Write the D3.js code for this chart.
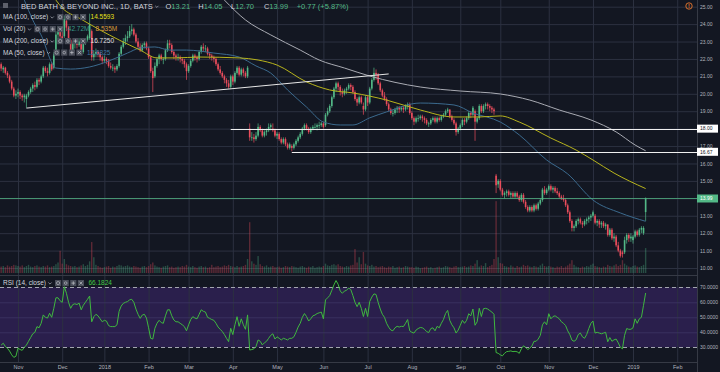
<!DOCTYPE html>
<html>
<head>
<meta charset="utf-8">
<script src="https://cdnjs.cloudflare.com/ajax/libs/d3/7.8.5/d3.min.js"></script>
<style>
html, body { margin: 0; padding: 0; background: #131722; }
svg { display: block; font-family: "Liberation Sans", Arial, sans-serif; }
</style>
</head>
<body>
<div id="chart"></div>
<script>
// daily bars, index 0 = 20 Oct 2017 ... index 306 = 9 Jan 2019  [open, high, low, close]
var ohlc = [
// Oct 2017
[21.7,21.8,21.3,21.45],[21.4,21.6,21.2,21.5],[21.5,21.55,21.1,21.2],[21.2,21.3,20.9,21.05],[21.0,21.1,20.6,20.7],[20.7,20.8,20.2,20.3],[20.3,20.4,19.8,19.9],[19.9,20.2,19.7,20.0],
// Nov
[20.0,20.3,19.8,20.1],[20.1,20.2,19.7,19.9],[19.9,20.0,19.6,19.8],[19.8,20.0,19.5,19.9],[19.7,20.0,19.2,19.9],[19.9,20.2,19.8,20.1],[20.1,20.4,20.0,20.3],[20.3,20.6,20.1,20.5],
[20.5,20.7,20.2,20.4],[20.4,20.9,20.3,20.8],[20.8,20.9,20.5,20.7],[20.7,21.1,20.6,21.0],[21.0,21.6,20.9,21.5],[21.5,21.6,21.2,21.3],[21.3,21.5,21.0,21.2],[21.2,21.8,21.1,21.7],
[21.7,21.8,21.3,21.4],[21.5,22.4,21.4,22.3],[22.4,23.6,22.3,23.4],[23.4,23.9,23.0,23.6],[23.6,23.8,23.1,23.3],
// Dec
[23.3,23.7,23.0,23.2],[23.3,24.5,23.2,24.3],[24.2,24.4,23.6,23.8],[23.8,23.9,23.0,23.1],[23.1,23.2,22.3,22.5],[22.5,23.0,22.4,22.9],[22.9,23.1,22.6,22.9],[22.9,23.0,22.6,22.8],
[22.8,23.2,22.7,23.0],[23.0,23.1,22.3,22.4],[22.4,23.0,22.3,22.9],[22.9,23.2,22.8,23.1],[23.1,23.4,23.0,23.3],[23.2,24.6,23.1,24.0],[23.6,23.7,21.9,22.1],[22.1,22.5,21.9,22.3],
[22.3,22.6,22.1,22.4],[22.4,22.5,22.1,22.3],[22.3,22.4,21.9,22.1],[22.1,22.2,21.7,21.9],
// Jan 2018
[21.9,22.2,21.8,22.0],[22.0,22.1,21.7,21.9],[21.9,22.0,21.5,21.6],[21.6,21.8,21.4,21.5],[21.5,21.7,21.3,21.5],[21.5,21.6,21.2,21.4],[21.4,21.7,21.3,21.6],[21.6,22.4,21.5,22.3],
[22.3,22.8,22.2,22.7],[22.7,23.2,22.6,23.0],[23.0,23.4,22.8,23.2],[23.2,23.6,23.0,23.3],[23.3,23.9,23.2,23.6],[23.6,24.0,23.4,23.7],[23.7,23.8,23.3,23.4],[23.4,23.5,22.9,23.0],
[23.0,23.2,22.6,22.7],[22.7,22.9,22.4,22.5],[22.5,22.9,22.4,22.8],[22.8,23.0,22.6,22.9],[22.9,23.0,22.5,22.6],
// Feb
[22.6,22.7,22.0,22.1],[22.1,22.2,21.2,21.3],[21.3,21.5,20.1,20.9],[21.0,21.8,20.9,21.6],[21.6,22.1,21.5,22.0],[22.0,22.3,21.7,22.2],[22.2,22.3,21.9,22.0],[22.0,22.1,21.7,22.0],
[22.0,22.6,21.9,22.5],[22.5,23.1,22.4,22.9],[22.9,23.1,22.6,22.8],[22.8,22.9,22.3,22.4],[22.4,22.5,22.0,22.2],[22.2,22.3,21.9,22.1],[22.1,22.3,21.9,22.1],[22.1,22.2,21.8,22.0],
[22.0,22.1,21.7,21.9],[21.9,22.0,21.5,21.7],[21.7,21.8,20.8,21.3],
// Mar
[21.3,21.7,21.2,21.6],[21.6,22.0,21.5,21.9],[21.9,22.3,21.8,22.2],[22.2,22.3,21.9,22.1],[22.1,22.2,21.8,22.0],[22.0,22.5,21.9,22.4],[22.4,22.8,22.3,22.7],[22.7,22.9,22.4,22.6],
[22.6,22.8,22.4,22.6],[22.6,22.7,22.2,22.3],[22.3,22.4,22.0,22.2],[22.2,22.3,21.9,22.1],[22.1,22.2,21.8,22.0],[22.0,22.1,21.6,21.7],[21.7,21.8,21.3,21.4],[21.4,21.6,21.1,21.2],
[21.2,21.3,20.9,21.0],[21.0,21.1,20.6,20.8],[20.8,20.9,20.4,20.6],[20.6,20.8,20.3,20.4],[20.4,21.1,20.3,21.0],
// Apr
[21.0,21.1,20.5,20.7],[20.7,21.3,20.6,21.2],[21.2,21.6,21.1,21.5],[21.5,21.6,21.0,21.1],[21.1,21.5,21.0,21.4],[21.4,21.5,21.0,21.2],[21.2,21.3,20.9,21.0],[21.0,21.6,20.9,21.5],
[18.0,18.3,17.3,17.5],[17.5,17.8,17.3,17.5],[17.5,17.7,17.2,17.4],[17.4,17.8,17.3,17.6],[17.6,18.3,17.5,18.1],[18.1,18.2,17.8,17.9],[17.9,18.0,17.5,17.6],[17.6,17.9,17.5,17.8],
[17.8,18.0,17.6,17.9],[17.9,18.3,17.8,18.1],[18.1,18.3,17.9,18.2],[18.0,18.3,17.8,17.9],[17.9,18.0,17.5,17.6],
// May
[17.6,17.8,17.4,17.7],[17.7,17.8,17.3,17.4],[17.4,17.5,17.1,17.2],[17.2,17.5,17.1,17.4],[17.4,17.5,17.0,17.1],[17.1,17.2,16.8,16.9],[16.9,17.2,16.8,17.1],[17.0,17.1,16.7,16.9],
[16.9,17.2,16.8,17.1],[17.1,17.4,17.0,17.3],[17.3,17.6,17.2,17.5],[17.5,17.8,17.4,17.7],[17.7,18.1,17.6,18.0],[18.0,18.3,17.9,18.2],[18.2,18.3,17.9,18.0],[18.0,18.1,17.7,17.8],
[17.8,18.1,17.7,18.0],[18.0,18.2,17.9,18.1],[18.1,18.3,18.0,18.1],[18.1,18.3,17.9,18.2],[18.2,18.4,18.0,18.2],[18.2,18.4,18.1,18.3],
// Jun
[18.3,18.4,18.0,18.1],[18.2,18.9,18.1,18.8],[18.8,19.2,18.7,19.0],[19.0,19.4,18.9,19.3],[19.3,19.9,19.2,19.8],[19.8,20.4,19.7,20.3],[20.3,20.7,20.1,20.6],[20.6,20.7,20.2,20.4],
[20.4,20.5,19.9,20.1],[20.1,20.3,19.8,20.0],[20.0,20.3,19.9,20.2],[20.2,20.4,20.0,20.3],[20.3,20.6,20.2,20.5],[20.5,20.6,20.2,20.4],[20.4,20.5,20.0,20.1],[20.1,20.2,19.6,19.7],
[19.7,19.8,19.3,19.5],[19.5,19.9,19.4,19.8],[19.8,19.9,19.4,19.5],[19.3,19.5,18.8,19.1],[19.1,19.9,19.0,19.8],
// Jul
[19.8,19.9,19.3,19.5],[19.5,20.4,19.4,20.3],[20.3,20.9,20.2,20.8],[20.8,21.5,20.7,21.2],[21.2,21.4,20.8,21.1],[21.1,21.2,20.5,20.6],[20.6,20.7,20.1,20.2],[20.2,20.3,19.8,19.9],
[19.9,20.1,19.6,19.7],[19.7,19.8,19.3,19.4],[19.4,19.5,19.0,19.1],[19.1,19.2,18.8,18.9],[18.9,19.1,18.7,18.9],[18.9,19.2,18.8,19.1],[19.1,19.3,18.9,19.2],[19.2,19.3,18.9,19.1],
[19.1,19.3,19.0,19.2],[19.2,19.3,18.9,19.1],[19.1,19.4,19.0,19.3],[19.3,19.5,19.1,19.4],[19.4,19.5,18.8,18.9],
// Aug
[18.9,19.0,18.5,18.6],[18.6,18.7,18.2,18.4],[18.4,18.7,18.3,18.6],[18.6,18.8,18.4,18.6],[18.6,18.8,18.5,18.7],[18.7,18.8,18.4,18.6],[18.6,18.7,18.3,18.5],[18.5,18.6,18.2,18.3],
[18.3,18.4,18.1,18.3],[18.3,18.6,18.2,18.5],[18.5,18.7,18.4,18.6],[18.6,18.7,18.3,18.4],[18.4,18.7,18.3,18.6],[18.6,18.7,18.4,18.5],[18.5,18.8,18.4,18.7],[18.7,18.9,18.6,18.8],
[18.8,19.1,18.7,19.0],[19.0,19.2,18.9,19.1],[19.1,19.1,18.6,18.7],[18.7,18.8,18.4,18.5],[18.5,18.6,18.2,18.3],[18.3,18.4,17.6,17.8],[17.8,18.1,17.7,18.0],
// Sep
[18.0,18.3,17.9,18.2],[18.2,18.6,18.1,18.5],[18.5,18.6,18.2,18.4],[18.4,18.7,18.3,18.6],[18.6,19.0,18.5,18.9],[18.9,19.0,18.6,18.8],[18.8,19.3,18.7,19.2],[19.0,19.1,17.3,18.4],
[18.4,18.7,18.3,18.6],[18.6,19.4,18.5,19.3],[19.3,19.4,18.9,19.0],[19.0,19.4,18.9,19.3],[19.3,19.5,19.1,19.4],[19.4,19.5,19.1,19.3],[19.3,19.4,19.0,19.2],[19.2,19.3,18.9,19.1],
[19.1,19.2,18.8,19.0],[15.3,15.4,14.3,14.75],[14.8,15.1,14.6,15.0],
// Oct
[15.0,15.1,14.4,14.5],[14.5,14.6,14.1,14.2],[14.2,14.4,14.0,14.3],[14.3,14.5,14.1,14.4],[14.4,14.5,14.1,14.2],[14.2,14.4,14.0,14.3],[14.3,14.4,14.0,14.1],[14.1,14.4,14.0,14.3],
[14.3,14.4,14.0,14.1],[14.1,14.2,13.8,13.9],[13.9,14.3,13.8,14.2],[14.2,14.3,13.7,13.8],[13.8,13.9,13.4,13.5],[13.5,13.6,13.2,13.3],[13.3,13.6,13.2,13.5],[13.5,13.6,13.2,13.3],
[13.3,13.7,13.2,13.6],[13.6,13.7,13.3,13.4],[13.4,13.8,13.3,13.7],[13.7,14.0,13.6,13.9],[13.9,14.6,13.8,14.5],[14.5,14.7,14.2,14.3],[14.3,14.6,14.2,14.5],
// Nov
[14.5,14.8,14.4,14.7],[14.7,14.8,14.4,14.5],[14.5,14.7,14.3,14.6],[14.6,14.7,14.3,14.4],[14.4,14.6,14.2,14.3],[14.3,14.4,14.0,14.1],[14.1,14.2,13.9,14.0],[14.0,14.2,13.8,13.9],
[13.9,14.0,13.5,13.6],[13.6,13.7,13.1,13.2],[13.2,13.3,12.6,12.7],[12.7,12.8,12.1,12.3],[12.3,12.5,12.1,12.4],[12.4,12.8,12.3,12.7],[12.7,12.9,12.5,12.8],[12.8,12.9,12.5,12.6],
[12.6,12.7,12.3,12.5],[12.5,12.8,12.4,12.7],[12.7,12.9,12.5,12.8],[12.8,13.0,12.6,12.9],[12.9,13.1,12.7,13.0],
// Dec
[13.0,13.3,12.9,13.2],[13.0,13.1,12.5,12.6],[12.6,12.8,12.4,12.7],[12.7,12.8,12.3,12.5],[12.5,12.7,12.3,12.6],[12.6,12.7,12.3,12.4],[12.4,12.6,12.2,12.5],[12.5,12.5,11.8,11.9],
[11.9,12.3,11.8,12.2],[12.2,12.3,11.6,11.7],[11.7,12.0,11.5,11.8],[11.8,11.9,11.2,11.3],[11.3,11.5,10.9,11.0],[11.0,11.1,10.6,10.7],[10.9,11.0,10.6,10.8],[10.9,11.8,10.8,11.6],
[11.6,12.0,11.4,11.9],[11.9,12.0,11.5,11.7],[11.7,12.0,11.5,11.8],
// Jan 2019
[11.6,11.9,11.4,11.8],[11.8,12.2,11.7,12.1],[12.1,12.2,11.8,11.9],[11.9,12.3,11.8,12.2],[12.2,12.4,12.0,12.3],[12.0,12.4,11.9,12.3],[13.21,14.05,12.70,13.99]
];

// volume, millions
var volume = [
11,12,10,13,11,12,14,13,
12,11,13,10,12,14,11,10,12,13,11,10,12,11,13,10,11,12,15,18,38,
16,24,15,13,12,11,12,10,11,13,15,12,14,20,53,27,14,12,10,9,
10,11,12,9,11,10,12,14,13,11,12,13,11,10,12,11,10,9,11,12,10,
12,15,18,13,11,10,9,11,12,13,10,11,9,10,11,10,12,11,14,
11,10,12,10,9,11,12,10,11,9,10,14,10,11,12,10,11,13,12,14,12,
11,10,12,10,11,12,14,24,87,20,16,14,29,15,12,11,13,10,11,12,10,
10,11,9,10,12,11,10,12,11,10,9,11,12,10,9,11,10,12,9,10,11,10,
12,16,13,12,14,15,13,15,12,11,10,12,11,13,14,41,18,27,15,36,16,
13,12,14,11,12,10,11,12,10,9,11,10,12,9,10,11,9,10,12,11,10,
10,9,11,10,8,9,10,11,9,10,8,9,10,11,9,10,12,11,10,9,11,12,10,
10,11,12,10,11,13,12,16,22,11,13,12,17,10,12,14,24,123,27,
17,16,12,11,10,13,11,9,12,10,11,14,12,13,11,10,12,11,10,13,16,12,11,
12,11,10,9,11,10,12,9,11,13,16,22,14,11,10,9,11,10,12,11,14,
16,12,11,10,9,11,10,14,12,11,13,15,12,14,22,16,13,11,10,
12,13,11,10,12,14,42.72
];

// RSI(14) per bar
var rsi = [
31.5,32.7,30.5,29.3,27.5,25,23.3,24,
29.5,28.5,28,30,31.5,34,36.5,39,40,43.8,43,46,51.6,50,49.5,52.7,50,56,63,63,61,
60,70.4,66,60,56,58.5,59,58.5,59.5,55,58,60,62,64.2,47,50.4,52,51,49,47,
48,47.5,44.5,43.8,43.8,43.8,45,54,57.5,59.3,60,60.5,61.6,62,60,55.5,52,49.3,51.5,52,49.5,
43,36,35.5,42.7,46,48,46.5,46,51,55,55,51,48.2,47,47,46,45,43.8,41,
45,48.5,50.4,49.5,49,52,55,54,53.5,50,49.3,48.5,48,46,43.5,42,40.5,38.5,36,33.8,42.7,
38.5,45,50.4,44,49,45,42,51.6,28.2,28.5,29,30.5,34.9,34,31.6,33,34,36,38,39,35.5,
37,36,34.9,36,35.5,34.9,36,36,37,40,43.5,46,50,52.5,50.5,47.5,49,51,51.5,52.5,53,53.5,
49,61.6,63,64.5,68,71.6,74.5,72,67.5,66,67.5,68,69.5,68.5,64.5,60,57.1,60,56,50.5,56,
50.5,60.5,63.5,65.6,65.2,60,55.5,52,50,46,43.4,41.5,41,43,44,43.5,44,43.8,46,48.5,41,
40,39.5,41.5,42.5,43.2,43,42,40.5,39.8,42.5,43,41,44,43,46,48.5,52.5,54.6,48,45,43,39.5,41.5,
44.7,48,46,48,52.4,51,55.5,44.7,47,56,50.5,55.7,56,55.5,54.5,53.5,52,26.5,26,
25,24.3,26,27.1,27.3,27.6,27.1,27.3,27,26,29,31,30,28.5,29.5,30.8,34,34,35.5,38,45,47,45,
52.4,49,50.5,51,50,49,47,46,44.5,41,38.5,34.8,34,35,38.5,39.5,37,36,38.5,42.5,46,
47.5,39.5,40,39.5,39,39.5,40,33.7,36.5,34,35,35.5,33,30,29,38,42.5,42,42,
43,49,46,49,50,58,66.2
];

// moving averages: [bar index, value]
var ma50 = [[11,25.38],[15,24.24],[20,23.09],[23,22.06],[26,21.48],[33,21.42],[42,21.54],[50,21.83],[60,22.34],[66,22.63],[73,22.69],[80,22.51],[88,22.51],[101,22.34],[113,22.11],[121,21.6],[128,21.19],[136,20.22],[145,19.24],[153,18.38],[161,18.21],[167,18.21],[175,18.62],[183,18.96],[199,19.47],[215,19.36],[224,18.9],[237,18.38],[246,17.64],[259,16.2],[269,15.4],[281,13.9],[294,13.16],[306,12.68]];
var ma100 = [[26,25.38],[29,24.93],[37,24.35],[47,23.66],[56,23.09],[66,22.51],[74,22.06],[83,22.06],[94,22.11],[113,22.06],[122,21.94],[131,21.65],[145,20.68],[156,20.22],[167,20.05],[183,19.64],[199,19.07],[215,18.67],[227,18.67],[237,18.73],[246,18.38],[261,17.46],[273,16.77],[281,16.2],[291,15.45],[306,14.56]];
var ma200 = [[106,25.38],[116,24.24],[128,23.38],[142,22.51],[151,21.94],[163,21.48],[175,21.02],[199,20.39],[218,20.16],[237,19.99],[251,19.64],[265,19.07],[280,18.5],[292,17.81],[301,17.06],[306,16.73]];

// drawn lines
var trendLine = [[12, 19.18], [184, 21.14]];
var levels = [{ from: 109, price: 18.00 }, { from: 138, price: 16.67 }];
var lastPrice = 13.99;

var monthLabels = ["Nov","Dec","2018","Feb","Mar","Apr","May","Jun","Jul","Aug","Sep","Oct","Nov","Dec","2019","Feb"];
var monthIndex = [8,29,49,70,89,110,131,153,174,195,218,237,260,281,300,321];
var priceTicks = [10,11,12,13,14,15,16,17,18,19,20,21,22,23,24,25];
var rsiTicks = [30,40,50,60,70];

var W = 720, H = 372;
var plotRight = 697, mainBottom = 274, rsiTop = 276, rsiBottom = 362;
var upColor = "#53b987", downColor = "#eb4d5c", gridColor = "#2c3140", textColor = "#b2b5be";

var x = d3.scaleLinear().domain([8, 300]).range([18, 633]);
var y = d3.scaleLinear().domain([10, 25]).range([268, 6.7]);
var yVol = d3.scaleLinear().domain([0, 125]).range([273, 200]);
var yRsi = d3.scaleLinear().domain([30, 70]).range([347.3, 287.3]);

var svg = d3.select("#chart").append("svg")
    .attr("width", W)
    .attr("height", H);

svg.append("rect").attr("width", W).attr("height", H).attr("fill", "#131722");

var defs = svg.append("defs");
defs.append("clipPath").attr("id", "clipMain")
    .append("rect").attr("x", 0).attr("y", 0).attr("width", plotRight).attr("height", mainBottom);
defs.append("clipPath").attr("id", "clipRsi")
    .append("rect").attr("x", 0).attr("y", rsiTop).attr("width", plotRight).attr("height", rsiBottom - rsiTop);

// rsi band
svg.append("rect")
    .attr("x", 0).attr("y", yRsi(70))
    .attr("width", plotRight).attr("height", yRsi(30) - yRsi(70))
    .attr("fill", "#2a1f4c");

const styleGrid = (g) => {
    g.select(".domain").remove();
    g.selectAll("line").attr("stroke", gridColor);
}

// vertical grid
svg.append("g")
    .attr("transform", "translate(0," + rsiBottom + ")")
    .call(d3.axisBottom(x).tickValues(monthIndex).tickSize(-rsiBottom).tickFormat(""))
    .call(styleGrid);
// price grid
svg.append("g")
    .call(d3.axisLeft(y).tickValues(priceTicks).tickSize(-plotRight).tickFormat(""))
    .call(styleGrid);
// rsi grid
svg.append("g")
    .call(d3.axisLeft(yRsi).tickValues([40, 50, 60]).tickSize(-plotRight).tickFormat(""))
    .call(g => { g.select(".domain").remove(); g.selectAll("line").attr("stroke", "#3a3160"); });

// pane borders
svg.append("line").attr("x1", 0).attr("x2", plotRight).attr("y1", mainBottom + 1.5).attr("y2", mainBottom + 1.5).attr("stroke", "#363a45");
svg.append("line").attr("x1", 0).attr("x2", plotRight).attr("y1", rsiBottom + 0.5).attr("y2", rsiBottom + 0.5).attr("stroke", "#363a45");
svg.append("line").attr("x1", plotRight + 0.5).attr("x2", plotRight + 0.5).attr("y1", 0).attr("y2", H).attr("stroke", "#363a45");

var main = svg.append("g").attr("clip-path", "url(#clipMain)");

// volume
main.append("g").selectAll("rect")
    .data(ohlc)
    .enter().append("rect")
    .attr("x", (d, i) => x(i) - 0.7)
    .attr("width", 1.4)
    .attr("y", (d, i) => yVol(volume[i]))
    .attr("height", (d, i) => yVol(0) - yVol(volume[i]))
    .attr("fill", d => d[3] >= d[0] ? upColor : downColor)
    .attr("opacity", 0.34);

// candles
var candle = main.append("g").selectAll("g")
    .data(ohlc)
    .enter().append("g");
candle.append("line")
    .attr("x1", (d, i) => x(i)).attr("x2", (d, i) => x(i))
    .attr("y1", d => y(d[1])).attr("y2", d => y(d[2]))
    .attr("stroke", d => d[3] >= d[0] ? upColor : downColor)
    .attr("stroke-width", 0.7);
candle.append("rect")
    .attr("x", (d, i) => x(i) - 0.8)
    .attr("width", 1.6)
    .attr("y", d => y(Math.max(d[0], d[3])))
    .attr("height", d => Math.max(0.8, Math.abs(y(d[0]) - y(d[3]))))
    .attr("fill", d => d[3] >= d[0] ? upColor : downColor);

// moving averages
var maLine = d3.line().x(d => x(d[0])).y(d => y(d[1])).curve(d3.curveMonotoneX);
main.append("path").datum(ma200).attr("d", maLine).attr("fill", "none").attr("stroke", "#a9abb3").attr("stroke-width", 1);
main.append("path").datum(ma50).attr("d", maLine).attr("fill", "none").attr("stroke", "#3b6a8e").attr("stroke-width", 1);
main.append("path").datum(ma100).attr("d", maLine).attr("fill", "none").attr("stroke", "#b8b41c").attr("stroke-width", 1);

// user drawn lines
main.append("line")
    .attr("x1", x(trendLine[0][0])).attr("y1", y(trendLine[0][1]))
    .attr("x2", x(trendLine[1][0])).attr("y2", y(trendLine[1][1]))
    .attr("stroke", "#e8e8e8").attr("stroke-width", 1);
main.selectAll(".level").data(levels).enter().append("line")
    .attr("x1", d => x(d.from)).attr("x2", plotRight)
    .attr("y1", d => Math.round(y(d.price)) + 0.5).attr("y2", d => Math.round(y(d.price)) + 0.5)
    .attr("stroke", "#f0f0f0").attr("stroke-width", 1);
main.append("line")
    .attr("x1", 0).attr("x2", plotRight)
    .attr("y1", Math.round(y(lastPrice)) + 0.5).attr("y2", Math.round(y(lastPrice)) + 0.5)
    .attr("stroke", upColor).attr("stroke-width", 1).attr("opacity", 0.75);

// rsi
var rsiPane = svg.append("g").attr("clip-path", "url(#clipRsi)");
rsiPane.selectAll(".band").data([70, 30]).enter().append("line")
    .attr("x1", 0).attr("x2", plotRight)
    .attr("y1", d => Math.round(yRsi(d)) + 0.5).attr("y2", d => Math.round(yRsi(d)) + 0.5)
    .attr("stroke", "#a3a6af").attr("stroke-dasharray", "4,3");
rsiPane.append("path").datum(rsi)
    .attr("d", d3.line().x((d, i) => x(i)).y(d => yRsi(d)))
    .attr("fill", "none").attr("stroke", "#3fb83f").attr("stroke-width", 1);

// axes
const styleAxis = (g, size) => {
    g.select(".domain").remove();
    g.selectAll("line").remove();
    g.attr("font-family", null).attr("font-size", size);
    g.selectAll("text").attr("fill", textColor);
}
svg.append("g")
    .attr("transform", "translate(" + plotRight + ",0)")
    .call(d3.axisRight(y).tickValues(priceTicks).tickFormat(d3.format(".2f")).tickSize(0).tickPadding(3))
    .call(g => styleAxis(g, 5));
svg.append("g")
    .attr("transform", "translate(" + plotRight + ",0)")
    .call(d3.axisRight(yRsi).tickValues(rsiTicks).tickFormat(d3.format(".4f")).tickSize(0).tickPadding(3))
    .call(g => styleAxis(g, 5));
svg.append("g")
    .attr("transform", "translate(0," + rsiBottom + ")")
    .call(d3.axisBottom(x).tickValues(monthIndex).tickFormat((d, i) => monthLabels[i]).tickSize(0).tickPadding(3))
    .call(g => styleAxis(g, 5.5));

// price labels on the axis
var tags = [
    { price: 18.00, fill: "#ffffff", color: "#131722" },
    { price: 16.67, fill: "#ffffff", color: "#131722" },
    { price: lastPrice, fill: upColor, color: "#ffffff" }
];
var tag = svg.selectAll(".tag").data(tags).enter().append("g");
tag.append("rect")
    .attr("x", plotRight).attr("width", 21)
    .attr("y", d => y(d.price) - 4).attr("height", 8)
    .attr("fill", d => d.fill);
tag.append("text")
    .attr("x", plotRight + 3).attr("y", d => y(d.price) + 1.8)
    .attr("font-size", 5).attr("fill", d => d.color)
    .text(d => d3.format(".2f")(d.price));

// warning icon
svg.append("circle").attr("cx", 689).attr("cy", 6).attr("r", 3.2).attr("fill", "none").attr("stroke", "#e8772e").attr("stroke-width", 0.9);
svg.append("text").attr("x", 689).attr("y", 8.1).attr("text-anchor", "middle").attr("font-size", 5.5).attr("font-weight", "bold").attr("fill", "#e8772e").text("!");

// header
svg.append("rect").attr("x", 3).attr("y", 3).attr("width", 5).attr("height", 5).attr("fill", "#5d606b");
var head = svg.append("text").attr("x", 21).attr("y", 9.2).attr("font-size", 7.5).attr("fill", "#d1d4dc");
head.append("tspan").text("BED BATH & BEYOND INC., 1D, BATS");
const chevron = (cx, cy) => {
    svg.append("path")
        .attr("d", "M" + (cx - 1.6) + "," + (cy - 0.8) + "L" + cx + "," + (cy + 0.8) + "L" + (cx + 1.6) + "," + (cy - 0.8))
        .attr("fill", "none").attr("stroke", "#b2b5be").attr("stroke-width", 0.7);
}
chevron(21 + head.node().getComputedTextLength() + 4, 6.6);

var ohlcHead = [["O", "13.21"], ["H", "14.05"], ["L", "12.70"], ["C", "13.99"]];
var hx = 165.5;
ohlcHead.forEach(p => {
    var t = svg.append("text").attr("x", hx).attr("y", 9.2).attr("font-size", 7.5);
    t.append("tspan").attr("fill", "#d1d4dc").text(p[0]);
    t.append("tspan").attr("fill", upColor).text(p[1]);
    hx += 32.8;
});
svg.append("text").attr("x", hx).attr("y", 9.2).attr("font-size", 7.5).attr("fill", upColor).text("+0.77 (+5.87%)");

// legends
var legend = [
    { name: "MA (100, close)", y: 17, values: [["14.5593", "#e6e21a"]] },
    { name: "Vol (20)", y: 29, values: [["42.72M", "#3a9a8a"], ["8.535M", "#d99a3a"]] },
    { name: "MA (200, close)", y: 41, values: [["16.7250", "#e0e0e0"]] },
    { name: "MA (50, close)", y: 52.5, values: [["12.6825", "#3f77a3"]] },
    { name: "RSI (14, close)", y: 283, values: [["66.1824", "#45c845"]] }
];
legend.forEach(row => {
    var t = svg.append("text").attr("x", 3).attr("y", row.y + 2.3).attr("font-size", 6.5).attr("fill", "#d1d4dc").text(row.name);
    var w = t.node().getComputedTextLength();
    chevron(3 + w + 4, row.y + 0.3);
    var bx = 3 + w + 9;
    ["eye", "gear", "plus", "close"].forEach((k, j) => {
        var gx = bx + j * 7.6;
        svg.append("rect").attr("x", gx).attr("y", row.y - 3).attr("width", 6.2).attr("height", 6.2).attr("fill", "#4a4e5a");
        var cx = gx + 3.1, cy = row.y + 0.1;
        if (k == "eye" || k == "gear") {
            svg.append("circle").attr("cx", cx).attr("cy", cy).attr("r", k == "eye" ? 1.6 : 1.3)
                .attr("fill", "none").attr("stroke", "#c3c5cc").attr("stroke-width", 0.6);
        } else if (k == "plus") {
            svg.append("path").attr("d", "M" + (cx - 1.8) + "," + cy + "H" + (cx + 1.8) + "M" + cx + "," + (cy - 1.8) + "V" + (cy + 1.8))
                .attr("stroke", "#c3c5cc").attr("stroke-width", 0.7);
        } else {
            svg.append("path").attr("d", "M" + (cx - 1.5) + "," + (cy - 1.5) + "L" + (cx + 1.5) + "," + (cy + 1.5) + "M" + (cx + 1.5) + "," + (cy - 1.5) + "L" + (cx - 1.5) + "," + (cy + 1.5))
                .attr("stroke", "#c3c5cc").attr("stroke-width", 0.7);
        }
    });
    var vx = bx + 4 * 7.6 + 3;
    row.values.forEach(v => {
        var vt = svg.append("text").attr("x", vx).attr("y", row.y + 2.3).attr("font-size", 6.5).attr("fill", v[1]).text(v[0]);
        vx += vt.node().getComputedTextLength() + 6;
    });
});
</script>
</body>
</html>
